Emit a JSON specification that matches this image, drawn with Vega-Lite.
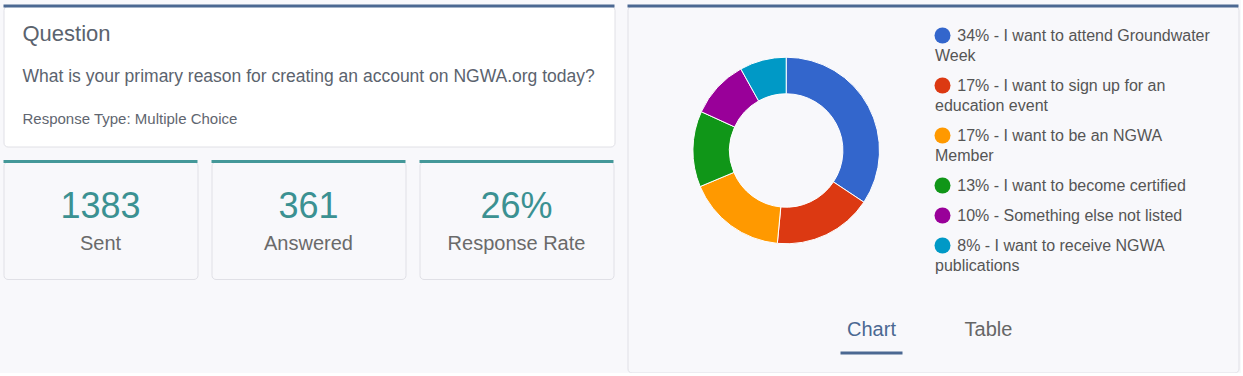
{
  "$schema": "https://vega.github.io/schema/vega-lite/v6.json",
  "background": "#f8f8fb",
  "padding": {"left": 1.5, "top": 4, "right": 0, "bottom": 0},
  "spacing": 9,
  "datasets": {
    "question": [
      {"role": "title", "text": "Question"},
      {"role": "question", "text": "What is your primary reason for creating an account on NGWA.org today?"},
      {"role": "type", "text": "Response Type: Multiple Choice"}
    ],
    "stats": [
      {"label": "Sent", "value": "1383"},
      {"label": "Answered", "value": "361"},
      {"label": "Response Rate", "value": "26%"}
    ],
    "reasons": [
      {"order": 1, "label": "34% - I want to attend Groundwater Week", "value": 34},
      {"order": 2, "label": "17% - I want to sign up for an education event", "value": 17},
      {"order": 3, "label": "17% - I want to be an NGWA Member", "value": 17},
      {"order": 4, "label": "13% - I want to become certified", "value": 13},
      {"order": 5, "label": "10% - Something else not listed", "value": 10},
      {"order": 6, "label": "8% - I want to receive NGWA publications", "value": 8}
    ],
    "tabs": [
      {"tab": "Chart", "active": true},
      {"tab": "Table", "active": false}
    ]
  },
  "config": {
    "font": "Liberation Sans",
    "view": {"stroke": "#e0e0e6", "strokeWidth": 1, "fill": "#ffffff", "cornerRadius": 4},
    "style": {"guide-label": {"lineHeight": 20}}
  },
  "hconcat": [
    {
      "spacing": 14.5,
      "bounds": "flush",
      "vconcat": [
        {
          "width": 611,
          "height": 140.5,
          "data": {"name": "question"},
          "resolve": {"scale": {"y": "independent"}},
          "layer": [
            {
              "transform": [{"filter": "datum.role == 'title'"}],
              "mark": {"type": "rule", "color": "#4b6892", "strokeWidth": 3},
              "encoding": {
                "y": {"datum": 1, "type": "quantitative", "scale": {"domain": [0, 1]}, "axis": null}
              }
            },
            {
              "resolve": {"scale": {"y": "shared"}},
              "encoding": {
                "x": {"datum": 0, "type": "quantitative", "scale": {"domain": [0, 1]}, "axis": null},
                "y": {"field": "role", "type": "nominal", "scale": {"type": "point", "domain": ["title", "question", "type"], "padding": 0.687, "align": 0.603}, "axis": null},
                "text": {"field": "text"}
              },
              "layer": [
                {
                  "transform": [{"filter": "datum.role == 'title'"}],
                  "mark": {"type": "text", "align": "left", "baseline": "alphabetic", "dx": 19, "fontSize": 22, "color": "#5b636e"}
                },
                {
                  "transform": [{"filter": "datum.role == 'question'"}],
                  "mark": {"type": "text", "align": "left", "baseline": "alphabetic", "dx": 19, "fontSize": 17.5, "color": "#5b636e"}
                },
                {
                  "transform": [{"filter": "datum.role == 'type'"}],
                  "mark": {"type": "text", "align": "left", "baseline": "alphabetic", "dx": 19, "fontSize": 15, "color": "#5f6670"}
                }
              ]
            }
          ]
        },
        {
          "data": {"name": "stats"},
          "bounds": "flush",
          "spacing": {"column": 14},
          "facet": {
            "column": {"field": "label", "type": "nominal", "sort": ["Sent", "Answered", "Response Rate"], "header": null}
          },
          "spec": {
            "width": 194,
            "height": 117.5,
            "layer": [
              {
                "mark": {"type": "rule", "color": "#449899", "strokeWidth": 3},
                "encoding": {
                  "y": {"datum": 1, "type": "quantitative", "scale": {"domain": [0, 1]}, "axis": null}
                }
              },
              {
                "mark": {"type": "text", "fontSize": 36, "color": "#3b9192", "baseline": "alphabetic", "dy": -2.25},
                "encoding": {"text": {"field": "value"}}
              },
              {
                "mark": {"type": "text", "fontSize": 20, "color": "#6a6a6a", "baseline": "alphabetic", "dy": 30},
                "encoding": {"text": {"field": "label"}}
              }
            ]
          }
        }
      ]
    },
    {
      "width": 611,
      "height": 366.5,
      "layer": [
        {
          "data": {"name": "tabs"},
          "transform": [{"filter": "datum.active"}],
          "mark": {"type": "rule", "color": "#4b6892", "strokeWidth": 3},
          "encoding": {
            "y": {"datum": 1, "type": "quantitative", "scale": {"domain": [0, 1]}, "axis": null}
          }
        },
        {
          "data": {"name": "reasons"},
          "mark": {"type": "arc", "outerRadius": 93.3, "innerRadius": 56.7, "stroke": "#ffffff", "strokeWidth": 1, "xOffset": -146.8, "yOffset": -38.75},
          "encoding": {
            "theta": {"field": "value", "type": "quantitative"},
            "order": {"field": "order", "type": "quantitative"},
            "color": {
              "field": "label",
              "type": "nominal",
              "scale": {
                "domain": [
                  "34% - I want to attend Groundwater Week",
                  "17% - I want to sign up for an education event",
                  "17% - I want to be an NGWA Member",
                  "13% - I want to become certified",
                  "10% - Something else not listed",
                  "8% - I want to receive NGWA publications"
                ],
                "range": ["#3366cc", "#dc3912", "#ff9900", "#109618", "#990099", "#0099c6"]
              },
              "legend": {
                "orient": "none",
                "legendX": 931,
                "legendY": 21.5,
                "title": null,
                "padding": 0,
                "symbolType": "circle",
                "symbolSize": 256,
                "symbolStrokeWidth": 0,
                "symbolOpacity": 1,
                "labelFontSize": 16,
                "labelColor": "#555555",
                "labelLimit": 500,
                "labelOffset": -15.5,
                "labelBaseline": "middle",
                "rowPadding": 14,
                "labelExpr": "datum.label == '34% - I want to attend Groundwater Week' ? ['\u200b\u00a0\u00a0\u00a0\u00a0\u00a034% - I want to attend Groundwater', 'Week'] : datum.label == '17% - I want to sign up for an education event' ? ['\u200b\u00a0\u00a0\u00a0\u00a0\u00a017% - I want to sign up for an', 'education event'] : datum.label == '17% - I want to be an NGWA Member' ? ['\u200b\u00a0\u00a0\u00a0\u00a0\u00a017% - I want to be an NGWA', 'Member'] : datum.label == '8% - I want to receive NGWA publications' ? ['\u200b\u00a0\u00a0\u00a0\u00a0\u00a08% - I want to receive NGWA', 'publications'] : '\u200b\u00a0\u00a0\u00a0\u00a0\u00a0' + datum.label"
              }
            }
          }
        },
        {
          "data": {"name": "tabs"},
          "mark": {"type": "text", "fontSize": 20, "baseline": "alphabetic", "dy": 146.25},
          "encoding": {
            "x": {"field": "tab", "type": "nominal", "scale": {"type": "point", "domain": ["Chart", "Table"], "range": [244, 361], "padding": 0}, "axis": null},
            "text": {"field": "tab"},
            "color": {"condition": {"test": "datum.active", "value": "#4b6892"}, "value": "#666666"}
          }
        },
        {
          "data": {"name": "tabs"},
          "transform": [{"filter": "datum.active"}],
          "mark": {"type": "tick", "orient": "horizontal", "size": 62, "thickness": 3, "color": "#4b6892", "opacity": 1, "yOffset": 163.75},
          "encoding": {
            "x": {"field": "tab", "type": "nominal", "scale": {"type": "point", "domain": ["Chart", "Table"], "range": [244, 361], "padding": 0}, "axis": null}
          }
        }
      ]
    }
  ]
}
